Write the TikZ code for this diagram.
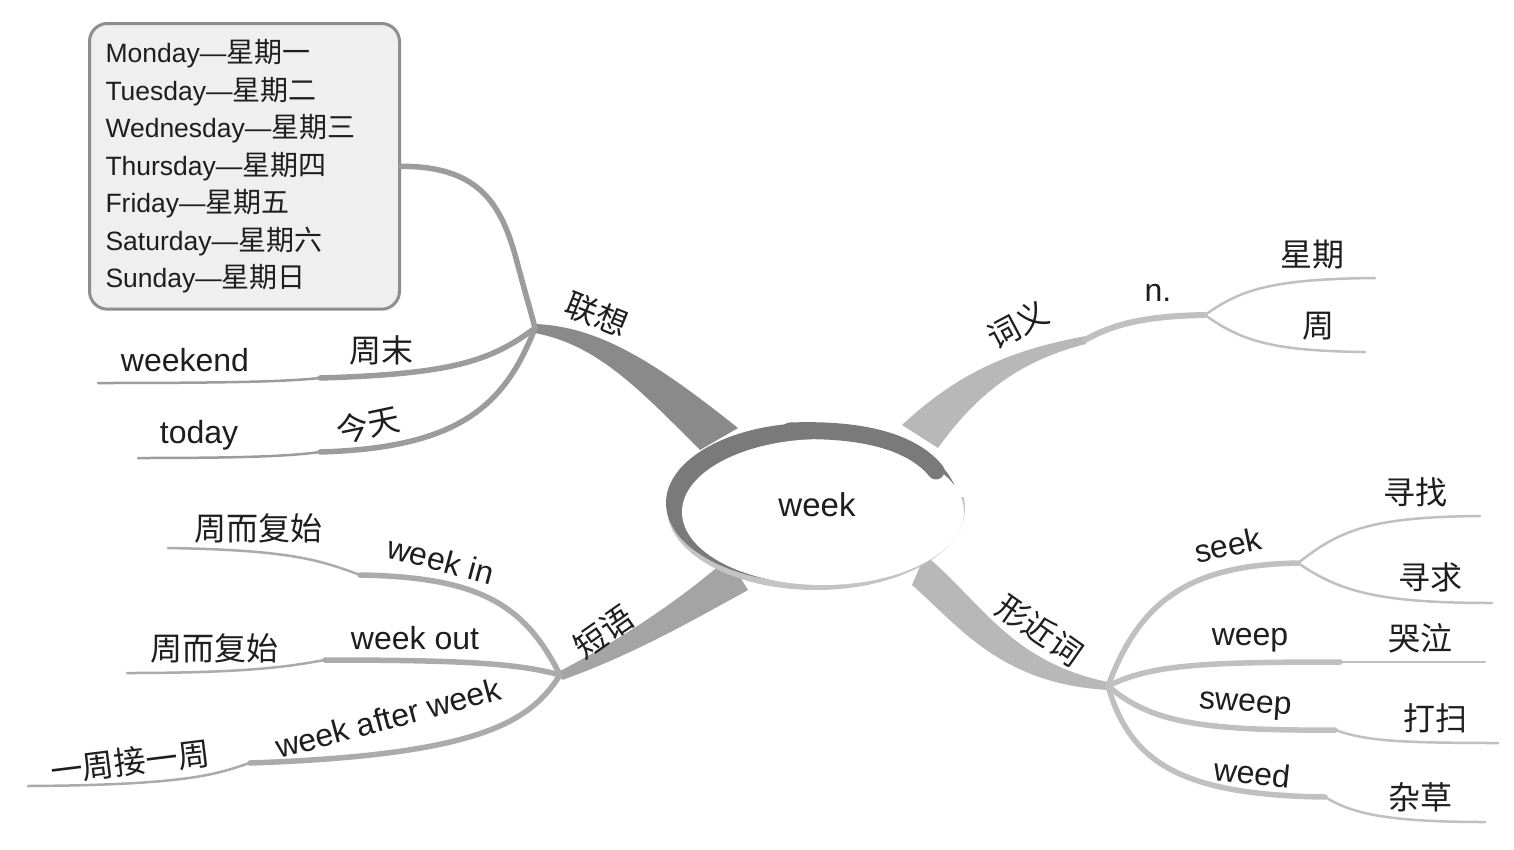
\documentclass[tikz,border=0pt]{standalone}
\usepackage{fontspec}
\setmainfont{Liberation Sans}
\newfontfamily\cjk{Noto Sans CJK SC}
\definecolor{ringdark}{HTML}{7A7A7A}
\definecolor{ringlight}{HTML}{C4C4C4}
\definecolor{brA}{HTML}{8A8A8A}
\definecolor{subA}{HTML}{9C9C9C}
\definecolor{brB}{HTML}{A4A4A4}
\definecolor{subB}{HTML}{ABABAB}
\definecolor{brC}{HTML}{B8B8B8}
\definecolor{subC}{HTML}{C0C0C0}
\definecolor{boxfill}{HTML}{EFEFEF}
\definecolor{boxline}{HTML}{8E8E8E}
\definecolor{txt}{HTML}{1E1E1E}
\newcommand{\zhb}[1]{{\fontsize{28}{37.5}\selectfont\cjk #1}}
\begin{document}
\begin{tikzpicture}[x=1pt,y=-1pt,
  thickseg/.style={line width=5.5pt,line cap=round},
  thinseg/.style={line width=2.5pt,line cap=round},
  lat/.style={font=\fontsize{32}{38}\selectfont,text=txt,inner sep=0pt},
  zh/.style={font=\fontsize{32}{38}\selectfont\cjk,text=txt,inner sep=0pt},
]
\useasboundingbox[fill=white] (0,0) rectangle (1514,849);

% ---------- coordinates ----------
\coordinate (hA) at (535,328);
\coordinate (kWe) at (320,378);  \coordinate (eWe) at (98,383);
\coordinate (kTo) at (320,452);  \coordinate (eTo) at (138,458);
\coordinate (hP) at (560,675);
\coordinate (kIn) at (360,575);  \coordinate (eIn) at (168,548);
\coordinate (kOut) at (325,660); \coordinate (eOut) at (127,673);
\coordinate (kAft) at (250,763); \coordinate (eAft) at (28,786);
\coordinate (kN) at (1085,340);  \coordinate (hN) at (1205,315);
\coordinate (eXq) at (1375,278); \coordinate (eZh) at (1365,352);
\coordinate (hS) at (1108,686);
\coordinate (hSk) at (1298,563);
\coordinate (eSk1) at (1480,516); \coordinate (eSk2) at (1492,603);
\coordinate (kWp) at (1340,662); \coordinate (eWp) at (1485,662);
\coordinate (kSw) at (1335,730); \coordinate (eSw) at (1498,743);
\coordinate (kWd) at (1325,797); \coordinate (eWd) at (1485,822);

% ---------- main tapered branches ----------
\fill[brA] (536,324) .. controls (600,327) and (655,362) .. (738,428)
  -- (700,450) .. controls (640,390) and (598,345) .. (535,333) -- cycle;
\fill[brB] (560,671) .. controls (620,640) and (680,600) .. (728,558)
  -- (748,590) .. controls (690,622) and (630,656) .. (562,680) -- cycle;
\fill[brC] (902,425) .. controls (958,373) and (1010,350) .. (1086,336)
  -- (1086,344) .. controls (1022,360) and (978,392) .. (938,448) -- cycle;
\fill[brC] (925,555) .. controls (980,600) and (1010,662) .. (1108,682)
  -- (1108,690) .. controls (1000,684) and (958,625) .. (912,585) -- cycle;

% ---------- centre ring ----------
\begin{scope}
  \clip (600,497) rectangle (1000,620) (600,380) rectangle (815,620);
  \fill[ringlight] (816,508) ellipse [x radius=149, y radius=82];
\end{scope}
\fill[ringdark] (812,503) ellipse [x radius=146, y radius=80];
\fill[white] (823,512) ellipse [x radius=141, y radius=73];
\draw[ringdark, line width=17pt, line cap=round] (790,431) .. controls (870,428) and (915,445) .. (936,471);
\node[lat,font=\fontsize{33}{38}\selectfont] (c) at (817,505) {week};

% ---------- box ----------
\node[draw=boxline, line width=3pt, fill=boxfill, rounded corners=18pt,
  anchor=north west, inner xsep=16pt, inner ysep=16pt, text width=278pt,
  align=left, text=txt, font=\fontsize{26.5}{37.5}\selectfont] (box) at (88,22)
  {Monday—\zhb{星期一}\\Tuesday—\zhb{星期二}\\Wednesday—\zhb{星期三}\\Thursday—\zhb{星期四}\\Friday—\zhb{星期五}\\Saturday—\zhb{星期六}\\Sunday—\zhb{星期日}};

% ---------- 联想 group ----------
\draw[subA, thickseg] (box.east) .. controls (480,166) and (502,205) .. (517,262) .. controls (526,296) and (531,312) .. (hA);
\draw[subA, thickseg] (hA) .. controls (490,362) and (450,374) .. (kWe);
\draw[subA, thinseg] (kWe) .. controls (290,381) and (250,383) .. (eWe);
\draw[subA, thickseg] (hA) .. controls (505,405) and (460,448) .. (kTo);
\draw[subA, thinseg] (kTo) .. controls (290,456) and (250,458) .. (eTo);

% ---------- 短语 group ----------
\draw[subB, thickseg] (hP) .. controls (525,605) and (480,577) .. (kIn);
\draw[subB, thinseg] (kIn) .. controls (320,560) and (290,550) .. (eIn);
\draw[subB, thickseg] (hP) .. controls (520,664) and (470,660) .. (kOut);
\draw[subB, thinseg] (kOut) .. controls (295,665) and (260,673) .. (eOut);
\draw[subB, thickseg] (hP) .. controls (530,722) and (480,755) .. (kAft);
\draw[subB, thinseg] (kAft) .. controls (220,772) and (200,785) .. (eAft);

% ---------- 词义 group ----------
\draw[subC, line width=6pt, line cap=round] (kN) .. controls (1110,326) and (1140,316) .. (hN);
\draw[subC, thinseg] (hN) .. controls (1240,290) and (1270,279) .. (eXq);
\draw[subC, thinseg] (hN) .. controls (1240,340) and (1270,351) .. (eZh);

% ---------- 形近词 group ----------
\draw[subC, thickseg] (hS) .. controls (1140,600) and (1190,565) .. (hSk);
\draw[subC, thinseg] (hSk) .. controls (1340,530) and (1370,517) .. (eSk1);
\draw[subC, thinseg] (hSk) .. controls (1340,592) and (1380,603) .. (eSk2);
\draw[subC, thickseg] (hS) .. controls (1150,665) and (1200,662) .. (kWp);
\draw[subC, thinseg] (kWp) -- (eWp);
\draw[subC, thickseg] (hS) .. controls (1150,722) and (1200,731) .. (kSw);
\draw[subC, thinseg] (kSw) .. controls (1365,740) and (1390,743) .. (eSw);
\draw[subC, thickseg] (hS) .. controls (1130,762) and (1180,795) .. (kWd);
\draw[subC, thinseg] (kWd) .. controls (1350,812) and (1380,822) .. (eWd);

% ---------- labels ----------
\node[zh, rotate=-22] (lx) at (597,314) {联想};
\node[lat] (tWe) at (185,360) {weekend};
\node[zh] (tZm) at (381,350) {周末};
\node[lat] (tTo) at (199,435) {today};
\node[zh, rotate=12] (tJt) at (368,425) {今天};

\node[zh, rotate=35] (dy) at (604,632) {短语};
\node[lat, rotate=-15] (tIn) at (441,560) {week in};
\node[zh] (tZ1) at (258,528) {周而复始};
\node[lat] (tOut) at (415,638) {week out};
\node[zh] (tZ2) at (214,648) {周而复始};
\node[lat, rotate=15] (tAft) at (388,718) {week after week};
\node[zh, rotate=7] (tYz) at (130,762) {一周接一周};

\node[zh, rotate=28] (cy) at (1018,325) {词义};
\node[lat] (tN) at (1158,293) {n.};
\node[zh] (tXq) at (1312,255) {星期};
\node[zh] (tZh) at (1318,326) {周};

\node[zh, rotate=-35] (xj) at (1040,630) {形近词};
\node[lat, rotate=12] (tSk) at (1228,545) {seek};
\node[zh] (tXz) at (1415,492) {寻找};
\node[zh] (tXqq) at (1430,577) {寻求};
\node[lat] (tWp) at (1250,640) {weep};
\node[zh] (tKq) at (1420,638) {哭泣};
\node[lat, rotate=-4] (tSw) at (1245,706) {sweep};
\node[zh] (tDs) at (1435,718) {打扫};
\node[lat, rotate=-6] (tWd) at (1252,773) {weed};
\node[zh] (tZc) at (1420,797) {杂草};
\end{tikzpicture}
\end{document}
